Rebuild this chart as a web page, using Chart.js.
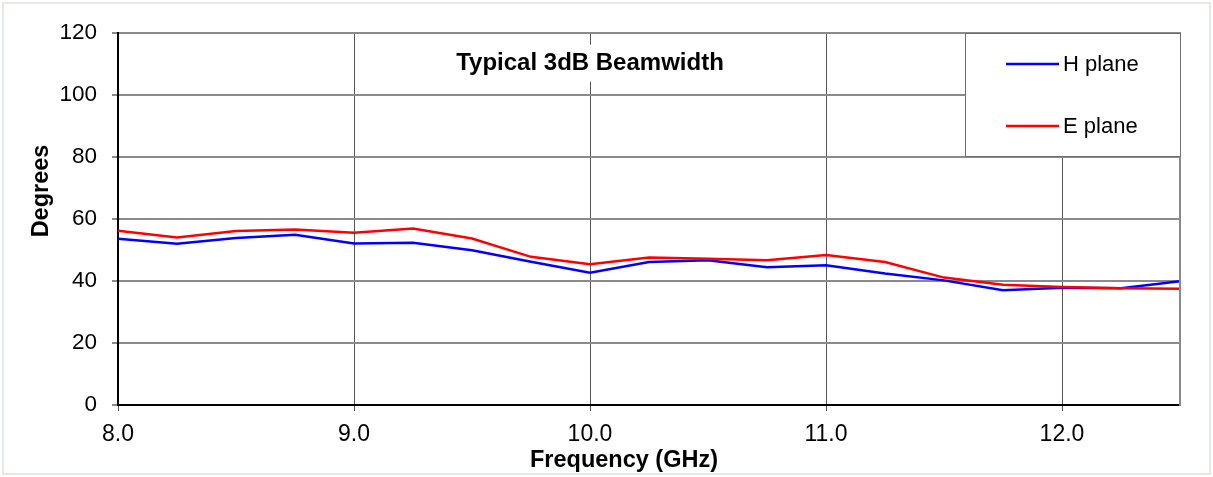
<!DOCTYPE html>
<html>
<head>
<meta charset="utf-8">
<script src="https://cdn.jsdelivr.net/npm/chart.js@4/dist/chart.umd.min.js"></script>
<style>
html,body{margin:0;padding:0;background:#fff;overflow:hidden}
#wrap{width:1213px;height:477px;position:relative}
</style>
</head>
<body>
<div id="wrap"><canvas id="c"></canvas></div>
<script>
// ---- data ----
const frequencies = [8.0, 8.25, 8.5, 8.75, 9.0, 9.25, 9.5, 9.75, 10.0, 10.25, 10.5, 10.75, 11.0, 11.25, 11.5, 11.75, 12.0, 12.25, 12.5];
const hPlane = [53.6, 52.0, 53.9, 54.9, 52.1, 52.3, 49.9, 46.2, 42.7, 46.1, 46.7, 44.4, 45.1, 42.4, 40.2, 37.0, 37.8, 37.7, 39.9];
const ePlane = [56.2, 54.0, 56.1, 56.6, 55.6, 56.9, 53.7, 47.8, 45.4, 47.6, 47.2, 46.7, 48.4, 46.1, 41.1, 38.8, 38.1, 37.7, 37.5];
const xTicks = [8, 9, 10, 11, 12];
const yTicks = [0, 20, 40, 60, 80, 100, 120];
const seriesNames = ['H plane', 'E plane'];
const chartTitle = 'Typical 3dB Beamwidth';
const xTitle = 'Frequency (GHz)';
const yTitle = 'Degrees';

const FONT = "'Liberation Sans', Arial, sans-serif";

const toPoints = arr => arr.map((v, i) => ({x: frequencies[i], y: v}));

const decor = {
  id: 'decor',
  afterDraw(chart) {
    const ctx = chart.ctx;
    const a = chart.chartArea;
    const xs = chart.scales.x, ys = chart.scales.y;
    ctx.save();
    // outer frame
    ctx.strokeStyle = '#e3e9e3';
    ctx.lineWidth = 2;
    ctx.strokeRect(3, 3, chart.width - 6, chart.height - 6);
    // right edge of plot
    ctx.strokeStyle = '#8a8a8a';
    ctx.lineWidth = 2;
    ctx.beginPath();
    ctx.moveTo(a.right, a.top - 1);
    ctx.lineTo(a.right, a.bottom + 1);
    ctx.stroke();

    // chart title with white background
    ctx.font = 'bold 24px ' + FONT;
    const tx = xs.getPixelForValue(10.0);
    const ty = ys.getPixelForValue(110.1);
    const tw = ctx.measureText(chartTitle).width;
    ctx.fillStyle = '#fff';
    ctx.fillRect(tx - tw / 2 - 4, ty - 19, tw + 8, 37);
    ctx.fillStyle = '#000';
    ctx.textAlign = 'center';
    ctx.textBaseline = 'middle';
    ctx.fillText(chartTitle, tx, ty);

    // legend box
    const bw = 215, bh = 123;
    const bx = a.right - bw, by = a.top;
    ctx.fillStyle = '#fff';
    ctx.fillRect(bx, by, bw, bh);
    ctx.strokeStyle = '#6e6e6e';
    ctx.lineWidth = 1;
    ctx.strokeRect(bx + 0.5, by + 0.5, bw, bh);
    ctx.font = '22px ' + FONT;
    ctx.textAlign = 'left';
    ctx.textBaseline = 'middle';
    const rows = [31, 93];
    chart.data.datasets.forEach((ds, i) => {
      const yy = by + rows[i];
      ctx.strokeStyle = ds.borderColor;
      ctx.lineWidth = 2.5;
      ctx.beginPath();
      ctx.moveTo(bx + 41, yy);
      ctx.lineTo(bx + 94, yy);
      ctx.stroke();
      ctx.fillStyle = '#000';
      ctx.fillText(ds.label, bx + 98, yy + 1);
    });

    // axis titles
    ctx.fillStyle = '#000';
    ctx.font = 'bold 23.5px ' + FONT;
    ctx.textAlign = 'center';
    ctx.textBaseline = 'middle';
    ctx.fillText(xTitle, (a.left + a.right) / 2 - 25, 461);
    ctx.save();
    ctx.translate(42, (a.top + a.bottom) / 2 - 28);
    ctx.rotate(-Math.PI / 2);
    ctx.fillText(yTitle, 0, 0);
    ctx.restore();
    ctx.restore();
  }
};

new Chart(document.getElementById('c'), {
  type: 'line',
  data: {
    datasets: [
      {label: seriesNames[0], data: toPoints(hPlane), borderColor: '#0000ff', borderWidth: 2.5, pointRadius: 0, tension: 0, order: 1},
      {label: seriesNames[1], data: toPoints(ePlane), borderColor: '#ff0000', borderWidth: 2.5, pointRadius: 0, tension: 0, order: 0}
    ]
  },
  options: {
    responsive: true,
    maintainAspectRatio: false,
    animation: false,
    devicePixelRatio: 1,
    layout: {padding: {top: 33, right: 33, left: 0, bottom: 0}},
    plugins: {legend: {display: false}, title: {display: false}, tooltip: {enabled: false}},
    scales: {
      x: {
        type: 'linear', min: 8, max: 12.5,
        afterBuildTicks: s => { s.ticks = xTicks.map(v => ({value: v})); },
        afterFit: s => { s.height = 72; },
        ticks: {callback: v => Number(v).toFixed(1), color: '#000', font: {family: FONT, size: 23}, padding: 10, maxRotation: 0},
        grid: {color: '#555', lineWidth: 1, tickLength: 6, drawTicks: true},
        border: {color: '#000', width: 2}
      },
      y: {
        min: 0, max: 120,
        afterBuildTicks: s => { s.ticks = yTicks.map(v => ({value: v})); },
        afterFit: s => { s.width = 118; },
        ticks: {color: '#000', font: {family: FONT, size: 22.5}, padding: 15},
        grid: {color: '#8a8a8a', lineWidth: 2, tickLength: 6, drawTicks: true},
        border: {color: '#000', width: 2}
      }
    }
  },
  plugins: [decor]
});
</script>
</body>
</html>
